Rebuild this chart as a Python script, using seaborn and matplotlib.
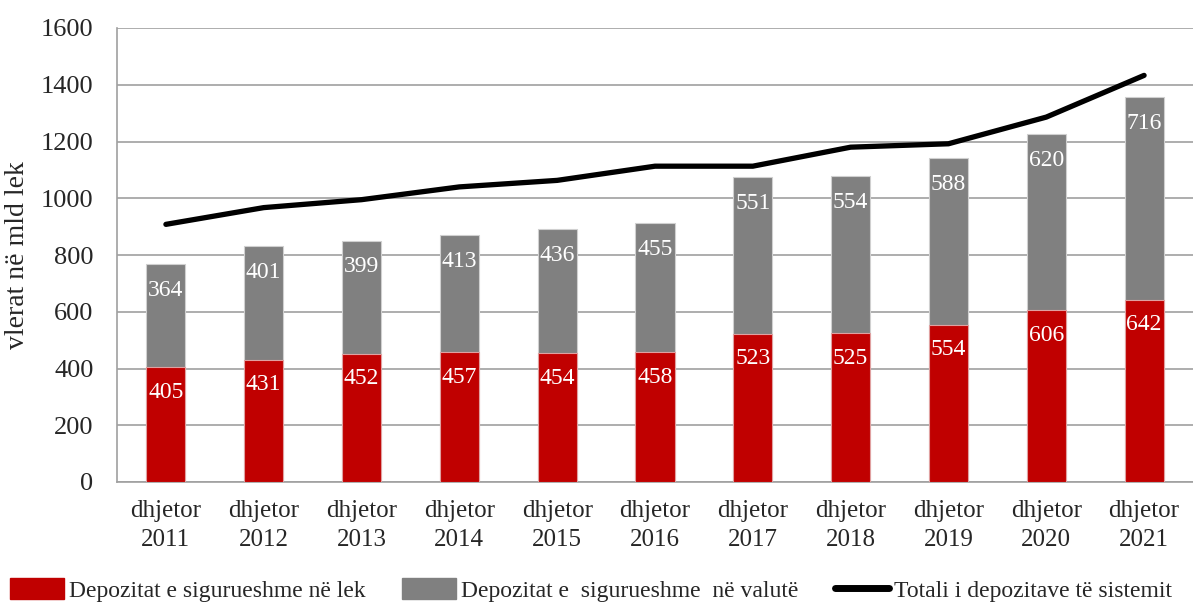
import numpy as np
import pandas as pd
import seaborn as sns
import matplotlib.pyplot as plt
from matplotlib.lines import Line2D
from matplotlib.patches import Patch

# vlerat ne mld lek
vitet = ["dhjetor\n2011", "dhjetor\n2012", "dhjetor\n2013", "dhjetor\n2014", "dhjetor\n2015",
         "dhjetor\n2016", "dhjetor\n2017", "dhjetor\n2018", "dhjetor\n2019", "dhjetor\n2020",
         "dhjetor\n2021"]
lek = [405, 431, 452, 457, 454, 458, 523, 525, 554, 606, 642]
valute = [364, 401, 399, 413, 436, 455, 551, 554, 588, 620, 716]
totali = [908, 967, 995, 1040, 1063, 1113, 1113, 1180, 1192, 1286, 1433]

sns.set_style("white")
plt.rcParams['font.family'] = ['Liberation Serif', 'DejaVu Serif']

df = pd.DataFrame({"viti": vitet, "lek": lek, "valute": valute})
df["shuma"] = df["lek"] + df["valute"]

fig = plt.figure(figsize=(11.93, 6.05), dpi=100)
ax = fig.add_axes([117/1193, 123/605, 1 - 117/1193, 454/605])

sns.barplot(data=df, x="viti", y="shuma", color="#808080", saturation=1, width=0.4,
            edgecolor="#d0d0d0", linewidth=0.8, ax=ax, zorder=2)
sns.barplot(data=df, x="viti", y="lek", color="#C00000", saturation=1, width=0.4,
            edgecolor="#e0a0a0", linewidth=0.8, ax=ax, zorder=3)
sns.lineplot(x=np.arange(len(vitet)), y=totali, color="black", linewidth=3.8, ax=ax,
             zorder=4)

for i in range(len(vitet)):
    ax.annotate(str(lek[i]), (i, lek[i]), xytext=(0, -18), textcoords="offset points",
                ha="center", va="center", color="white", fontsize=17, zorder=5)
    ax.annotate(str(valute[i]), (i, lek[i] + valute[i]), xytext=(0, -19), textcoords="offset points",
                ha="center", va="center", color="white", fontsize=17, zorder=5)

ax.set_ylim(0, 1600)
ax.set_xlim(-0.5, (1193 - 117) / 98.4 - 0.5)
ax.set_yticks(range(0, 1601, 200))
ax.yaxis.grid(True, color="#a0a0a0", linewidth=1.2, zorder=0)
ax.set_axisbelow(True)
for s in ["top", "right"]:
    ax.spines[s].set_visible(False)
for s in ["left", "bottom"]:
    ax.spines[s].set_color("#a0a0a0")
    ax.spines[s].set_linewidth(1.2)

ax.set_xticks(np.arange(len(vitet)))
ax.set_xticklabels(vitet, linespacing=1.4)
ax.set_xticks(np.arange(-0.5, len(vitet), 1), minor=True)
ax.tick_params(axis="x", which="major", length=0, pad=13, labelsize=18)
ax.tick_params(axis="x", which="minor", length=5, color="#a0a0a0", width=1.2)
ax.tick_params(axis="y", length=5, color="#a0a0a0", width=1.2, labelsize=19, pad=12)
ax.set_xlabel("")
ax.set_ylabel("vlerat në mld lek", fontsize=20, labelpad=8)

handles = [Patch(color="#C00000"), Patch(color="#808080"),
           Line2D([], [], color="black", linewidth=5)]
fig.legend(handles,
           ["Depozitat e sigurueshme në lek", "Depozitat e  sigurueshme  në valutë",
            "Totali i depozitave të sistemit"],
           loc="center left", bbox_to_anchor=(0.008, 15/605), ncol=3, frameon=False, fontsize=17,
           handlelength=2.3, handleheight=1.0, handletextpad=0.2, columnspacing=1.55,
           borderaxespad=0, borderpad=0)

fig.savefig("out.png", dpi=100)
